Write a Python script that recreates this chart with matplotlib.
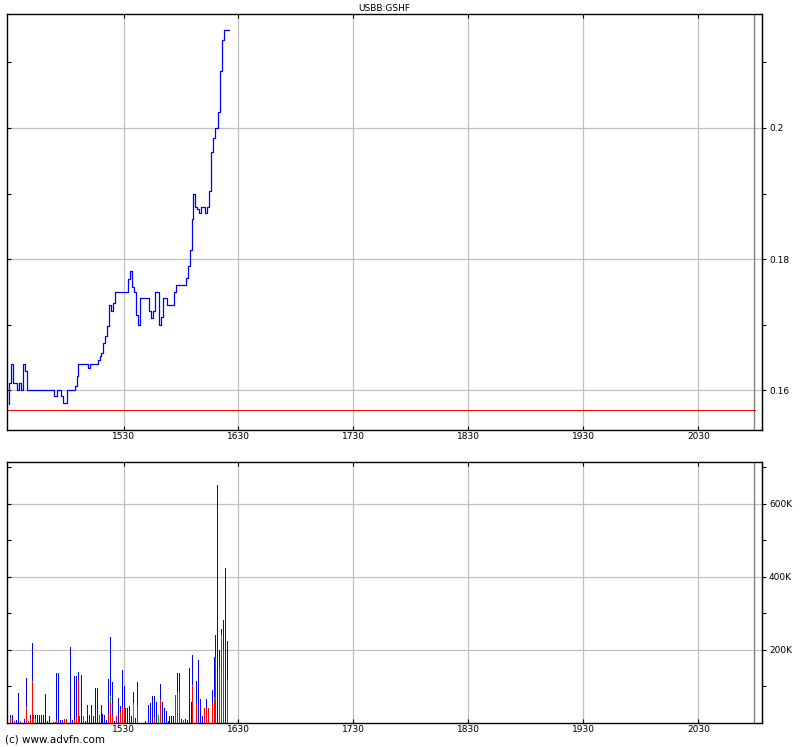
import matplotlib
matplotlib.use("Agg")
import matplotlib.pyplot as plt

# price, one value per minute from 14:30
price = [0.1579, 0.1611, 0.164, 0.1611, 0.1611, 0.160, 0.1611, 0.160, 0.164, 0.1629,
         0.16, 0.16, 0.16, 0.16, 0.16, 0.16, 0.16, 0.16, 0.16, 0.16, 0.16, 0.16, 0.16, 0.16,
         0.1591, 0.1591, 0.16, 0.16, 0.1591, 0.158, 0.158,
         0.16, 0.16, 0.16, 0.16,
         0.1606, 0.1621, 0.164, 0.164, 0.164, 0.164, 0.164, 0.1633, 0.164, 0.164, 0.164, 0.164,
         0.1646, 0.1652, 0.1657, 0.1672, 0.1682, 0.1697, 0.173, 0.172, 0.1733,
         0.175, 0.175, 0.175, 0.175, 0.175, 0.175, 0.175,
         0.177, 0.1781, 0.1758, 0.175, 0.1715, 0.170,
         0.174, 0.174, 0.174, 0.174, 0.174,
         0.1721, 0.171, 0.1721, 0.175, 0.175, 0.170, 0.1712, 0.174, 0.174,
         0.173, 0.173, 0.173, 0.173, 0.175,
         0.176, 0.176, 0.176, 0.176, 0.176,
         0.1771, 0.179, 0.1814, 0.1861, 0.19, 0.188, 0.1876, 0.1871, 0.188, 0.188, 0.1871, 0.188,
         0.1904, 0.1963, 0.1985, 0.2, 0.2, 0.2025, 0.2087, 0.2135, 0.215, 0.215, 0.215]
price_minutes = list(range(len(price)))
ref_price = 0.157

# volume bars (thousands): minute, total, red part, green part
vol_minute = [1, 2, 3, 4, 5, 6, 8, 9, 10, 11, 12, 13, 14, 15, 16, 17, 18, 19, 20, 21,
              23, 24, 25, 26, 27, 28, 29, 30, 32, 33, 34, 35, 36, 37, 38, 39, 40, 41, 42, 43,
              44, 45, 46, 47, 48, 49, 50, 51, 52, 53, 54, 55, 56, 57, 58, 59, 60, 61, 62, 63,
              64, 65, 66, 67, 71, 73, 74, 75, 76, 77, 78, 79, 80, 81, 82, 83, 84, 85, 86, 87,
              88, 89, 90, 91, 92, 93, 94, 95, 96, 98, 99, 100, 101, 102, 103, 104, 106, 107,
              108, 109, 110, 111, 112, 113, 114]
vol_total = [21, 21, 5, 7, 82, 5, 12, 124, 5, 23, 220, 23, 23, 23, 23, 23, 23, 80, 5, 18,
             2, 2, 137, 137, 7, 7, 12, 12, 209, 7, 129, 129, 140, 18, 131, 18, 5, 49, 23, 49,
             18, 95, 95, 23, 49, 25, 23, 8, 120, 235, 111, 6, 18, 69, 46, 146, 100, 41, 41, 46,
             18, 85, 14, 112, 5, 49, 55, 74, 74, 57, 23, 108, 57, 40, 32, 6, 18, 18, 18, 78,
             138, 138, 12, 9, 12, 9, 151, 57, 185, 114, 172, 65, 18, 41, 65, 41, 90, 182,
             240, 652, 200, 257, 282, 425, 226]
vol_red = [15, 0, 5, 0, 0, 5, 0, 41, 5, 15, 112, 0, 0, 0, 0, 0, 0, 0, 0, 0,
           0, 0, 7, 0, 0, 0, 12, 12, 0, 0, 7, 17, 117, 18, 0, 18, 0, 0, 0, 0,
           0, 0, 0, 23, 0, 0, 0, 0, 25, 60, 20, 0, 18, 0, 30, 40, 40, 0, 0, 0,
           0, 10, 0, 50, 0, 0, 0, 0, 16, 0, 0, 65, 0, 0, 0, 0, 0, 0, 0, 78,
           85, 85, 0, 9, 0, 0, 0, 0, 100, 54, 0, 0, 0, 41, 41, 41, 55, 65,
           180, 0, 150, 230, 200, 0, 120]
vol_green = [0, 0, 0, 0, 0, 0, 0, 3, 0, 0, 4, 12, 12, 0, 0, 0, 0, 0, 0, 0,
             0, 0, 0, 0, 0, 0, 0, 0, 0, 0, 0, 0, 0, 0, 0, 0, 0, 0, 0, 0,
             0, 0, 0, 0, 0, 0, 0, 0, 0, 15, 0, 0, 0, 0, 0, 0, 0, 0, 0, 0,
             0, 45, 0, 0, 0, 0, 0, 0, 0, 0, 23, 0, 0, 0, 0, 0, 0, 0, 0, 0,
             0, 0, 0, 0, 0, 0, 0, 0, 5, 0, 0, 0, 0, 0, 0, 0, 0, 7,
             0, 0, 0, 10, 0, 0, 0]

hour_ticks = [60, 120, 180, 240, 300, 360]
hour_labels = ['1530', '1630', '1730', '1830', '1930', '2030']
price_major = [0.16, 0.18, 0.2]
price_labels = ['0.16', '0.18', '0.2']
price_minor = [0.17, 0.19, 0.21]
vol_major = [200, 400, 600]
vol_labels = ['200K', '400K', '600K']
vol_minor = [100, 300, 500, 700]

plt.rcParams['font.family'] = 'DejaVu Sans'
fig = plt.figure(figsize=(8.0, 7.47), dpi=100)
ax1 = fig.add_axes([7 / 800, 1 - 430 / 747, 755 / 800, 416 / 747])
ax2 = fig.add_axes([7 / 800, 1 - 723 / 747, 755 / 800, 261 / 747])

px = 0.72  # one pixel at 100 dpi
grid_kw = dict(color='#c0c0c0', linewidth=0.9)


def style_axes(ax, major, labels, minor):
    ax.set_xlim(-0.8, 393.2)
    ax.set_xticks(hour_ticks)
    ax.set_xticklabels(hour_labels)
    ax.set_yticks(major)
    ax.set_yticks(minor, minor=True)
    ax.tick_params(axis='x', which='both', direction='in', length=3, top=True,
                   labelsize=6.5, pad=1.5, width=0.8)
    ax.tick_params(axis='y', which='both', direction='in', length=3, labelleft=False,
                   width=0.8)
    ax.grid(True, which='major', **grid_kw)
    ax.set_axisbelow(True)
    ax.axvline(389, color='#808080', linewidth=1.0, zorder=1)
    for s in ax.spines.values():
        s.set_linewidth(1.0)
    sec = ax.secondary_yaxis('right')
    sec.set_yticks(major)
    sec.set_yticklabels(labels)
    sec.set_yticks(minor, minor=True)
    sec.tick_params(which='both', direction='out', length=3, labelsize=6.5, pad=2, width=0.8)


# price panel
ax1.set_ylim(0.1539, 0.2174)
style_axes(ax1, price_major, price_labels, price_minor)
ax1.plot(price_minutes, price, color='#0000ff', linewidth=0.9, drawstyle='steps-mid',
         zorder=3)
ax1.hlines(ref_price, -0.8, 389.5, color='#ff0000', linewidth=px, zorder=2,
           antialiased=False)
ax1.set_title('USBB:GSHF', fontsize=6.5, pad=2)

# volume panel
ax2.set_ylim(0, 715)
style_axes(ax2, vol_major, vol_labels, vol_minor)
for m, t, r, g in zip(vol_minute, vol_total, vol_red, vol_green):
    ax2.vlines(m, r + g, t, color='#0000ff', linewidth=px, zorder=3, antialiased=False)
    if g > 0:
        ax2.vlines(m, r, r + g, color='#00c000', linewidth=px, zorder=3, antialiased=False)
    if r > 0:
        ax2.vlines(m, 0, r, color='#ff0000', linewidth=px, zorder=3, antialiased=False)

fig.text(5 / 800, 1 - 740 / 747, '(c) www.advfn.com', fontsize=7.5, va='center', ha='left')

fig.savefig('out.png', dpi=100)
